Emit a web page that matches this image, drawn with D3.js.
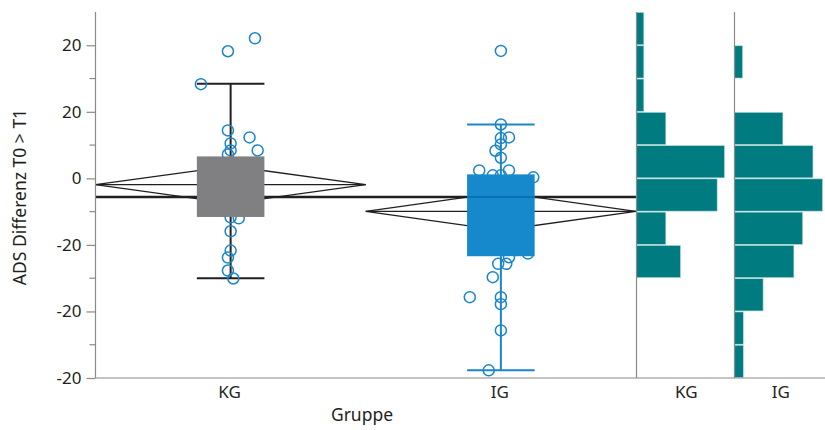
<!DOCTYPE html>
<html><head><meta charset="utf-8">
<script src="https://cdn.jsdelivr.net/npm/d3@7"></script>
<style>body{margin:0;background:#fff}svg{display:block}text{font-family:"Noto Sans",sans-serif;fill:#231f20}</style>
</head><body><svg id="c" width="825" height="430"></svg>
<script>
// ---- data ----
const groups = ["KG", "IG"];
const yTickValues = [40, 20, 0, -20, -40, -60];
const yTickLabels = ["20", "20", "0", "-20", "-20", "-20"];
const yMinorTicks = [30, 10, -10, -30, -50];
// box stats: q1, q3, whisker low, whisker high, median
const boxQ1 = [-11.6, -23.4];
const boxQ3 = [6.6, 1.2];
const whiskLo = [-30.0, -57.7];
const whiskHi = [28.4, 16.2];
const medians = [null, -5.6];
const groupMeans = [-1.9, -9.9];
const meanCI = [5.6, 5.7];
const grandMean = -5.6;
// individual observations (value) and horizontal jitter (fraction of step)
const kgValues = [42.1, 38.2, 28.3, 14.4, 12.3, 10.5, 8.4, 8.4, 7.2, -11.7, -12.0, -15.9, -21.7, -23.8, -27.7, -30.1];
const kgJitter = [0.09, -0.01, -0.11, -0.01, 0.07, 0.0, 0.0, 0.1, -0.01, 0.0, 0.03, 0.0, 0.0, -0.01, -0.01, 0.01];
const igValues = [38.3, 16.2, 12.1, 12.3, 10.2, 8.3, 6.2, 2.4, 2.4, 0.9, 0.3, 0.9, -22.6, -23.7, -25.7, -25.7, -29.7, -35.7, -35.7, -37.8, -45.7, -57.7];
const igJitter = [0.0, 0.0, 0.0, 0.03, 0.0, -0.02, 0.0, -0.08, 0.03, -0.03, 0.12, 0.0, 0.1, 0.03, 0.02, -0.01, -0.03, -0.115, 0.0, 0.0, 0.0, -0.045];
// histogram bins (upper edge) and heights
const binEdges = [50, 40, 30, 20, 10, 0, -10, -20, -30, -40, -50, -60];
const kgHist = [1, 1, 1, 4, 12, 11, 4, 6, 0, 0, 0];
const igHist = [0, 1.1, 0, 6.6, 10.7, 12, 9.3, 8.1, 3.9, 1.2, 1.2];

// ---- layout ----
const svg = d3.select("#c");
const mLeft = 95.5, mainRight = 636, mTop = 12, mBottom = 378;
const y = d3.scaleLinear().domain([-60, 50]).range([mBottom, mTop]);
const x = d3.scalePoint().domain(groups).range([mLeft, mainRight]).padding(0.5);
const step = x.step();
const boxW = step * 0.25;
const boxFill = ["#808083", "#1589cb"];
const lineCol = ["#231f20", "#1a86c8"];
const ptCol = "#1a86c8";
const fs = "17px";

// y axis
const yAxis = d3.axisLeft(y).tickValues(yTickValues).tickSize(9).tickPadding(5)
  .tickFormat((d, i) => yTickLabels[i]);
const ga = svg.append("g").attr("transform", `translate(${mLeft},0)`).call(yAxis);
ga.select(".domain").remove();
ga.selectAll(".tick line").attr("stroke", "#8a8a8a").attr("stroke-width", 1.2);
ga.selectAll(".tick text").style("font-size", fs).attr("fill", "#231f20");
svg.append("g").selectAll("line").data(yMinorTicks).join("line")
  .attr("x1", mLeft - 6).attr("x2", mLeft).attr("y1", d => y(d)).attr("y2", d => y(d))
  .attr("stroke", "#8a8a8a").attr("stroke-width", 1.2);

// diamonds (behind boxes)
groups.forEach((g, i) => {
  const cx = x(g), hw = step / 2;
  const pts = [[cx - hw, y(groupMeans[i])], [cx, y(groupMeans[i] + meanCI[i])], [cx + hw, y(groupMeans[i])], [cx, y(groupMeans[i] - meanCI[i])]];
  svg.append("path").attr("d", d3.line()(pts) + "Z").attr("fill", "none").attr("stroke", "#231f20").attr("stroke-width", 1.3);
  svg.append("line").attr("x1", cx - hw).attr("x2", cx + hw).attr("y1", y(groupMeans[i])).attr("y2", y(groupMeans[i]))
    .attr("stroke", "#231f20").attr("stroke-width", 1.3);
});

// grand mean line
svg.append("line").attr("x1", mLeft).attr("x2", mainRight).attr("y1", y(grandMean)).attr("y2", y(grandMean))
  .attr("stroke", "#231f20").attr("stroke-width", 2.6);

// whiskers
groups.forEach((g, i) => {
  const cx = x(g);
  const gg = svg.append("g").attr("stroke", lineCol[i]).attr("stroke-width", 2);
  gg.append("line").attr("x1", cx).attr("x2", cx).attr("y1", y(whiskLo[i])).attr("y2", y(whiskHi[i]));
  [whiskLo[i], whiskHi[i]].forEach(v => gg.append("line").attr("x1", cx - boxW / 2).attr("x2", cx + boxW / 2).attr("y1", y(v)).attr("y2", y(v)));
});

// points
const pointData = [].concat(
  kgValues.map((v, k) => ({ g: "KG", v, j: kgJitter[k] })),
  igValues.map((v, k) => ({ g: "IG", v, j: igJitter[k] })));
svg.append("g").selectAll("circle").data(pointData).join("circle")
  .attr("cx", d => x(d.g) + d.j * step).attr("cy", d => y(d.v)).attr("r", 5.5)
  .attr("fill", "none").attr("stroke", ptCol).attr("stroke-width", 1.5);

// boxes
groups.forEach((g, i) => {
  const cx = x(g);
  svg.append("rect").attr("x", cx - boxW / 2).attr("width", boxW)
    .attr("y", y(boxQ3[i])).attr("height", y(boxQ1[i]) - y(boxQ3[i])).attr("fill", boxFill[i]);
  if (medians[i] !== null)
    svg.append("line").attr("x1", cx - boxW / 2).attr("x2", cx + boxW / 2).attr("y1", y(medians[i])).attr("y2", y(medians[i]))
      .attr("stroke", "#0a72b2").attr("stroke-width", 2.2);
});

// histograms
const histPanels = [{ lab: "KG", x0: 636.5, x1: 734, vals: kgHist }, { lab: "IG", x0: 734.5, x1: 825, vals: igHist }];
const hx = d3.scaleLinear().domain([0, 12]).range([0, 88]);
histPanels.forEach(p => {
  svg.append("g").selectAll("rect").data(p.vals).join("rect")
    .attr("x", p.x0).attr("width", d => hx(d))
    .attr("y", (d, k) => y(binEdges[k]) + 0.5).attr("height", (d, k) => y(binEdges[k + 1]) - y(binEdges[k]) - 1)
    .attr("fill", "#007b80").attr("stroke", "#b9dcdc").attr("stroke-width", 0.6)
    .attr("display", d => d > 0 ? null : "none");
  svg.append("line").attr("x1", p.x0).attr("x2", p.x0).attr("y1", mTop).attr("y2", mBottom).attr("stroke", "#8a8a8a").attr("stroke-width", 1.2);
  svg.append("text").attr("x", (p.x0 + p.x1) / 2 + 1).attr("y", 398).attr("text-anchor", "middle").style("font-size", fs).text(p.lab);
});

// axis lines
svg.append("line").attr("x1", mLeft).attr("x2", mLeft).attr("y1", mTop).attr("y2", mBottom).attr("stroke", "#8a8a8a").attr("stroke-width", 1.2);
svg.append("line").attr("x1", mLeft).attr("x2", 825).attr("y1", mBottom).attr("y2", mBottom).attr("stroke", "#8a8a8a").attr("stroke-width", 1.2);

// x labels
svg.append("g").selectAll("text").data(groups).join("text")
  .attr("x", d => x(d) - 1).attr("y", 398).attr("text-anchor", "middle").style("font-size", fs).text(d => d);
svg.append("text").attr("x", 362).attr("y", 421).attr("text-anchor", "middle").style("font-size", "17.5px").text("Gruppe");
svg.append("text").attr("transform", "translate(26,197) rotate(-90)").attr("text-anchor", "middle").style("font-size", "17.5px").text("ADS Differenz T0 > T1");
</script></body></html>
